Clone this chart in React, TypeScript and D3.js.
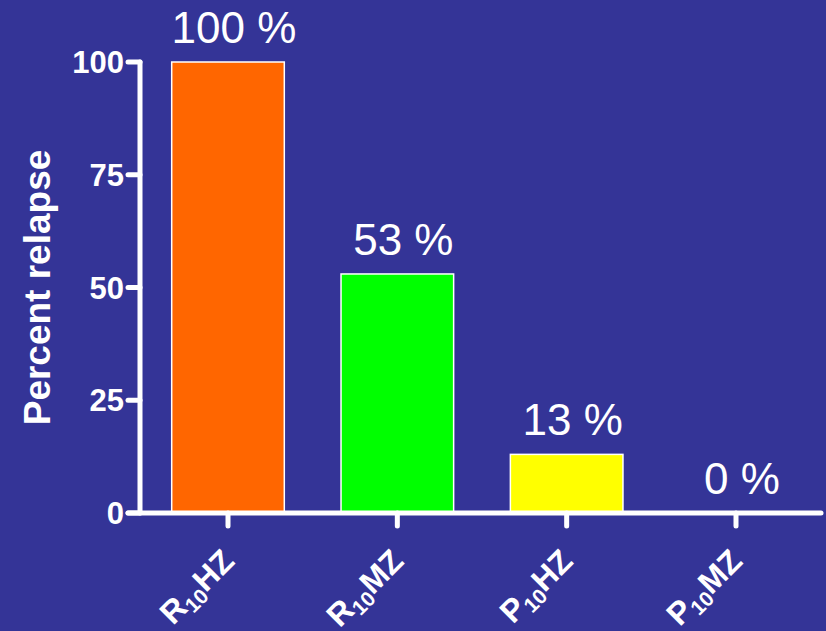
import React, { useEffect, useRef } from 'react';
import * as d3 from 'd3';

const groups = ['R', 'R', 'P', 'P'];
const suffixes = ['HZ', 'MZ', 'HZ', 'MZ'];
const categories = ['R10HZ', 'R10MZ', 'P10HZ', 'P10MZ'];
const relapse = [100, 53, 13, 0];
const barColors = ['#FF6600', '#00FF00', '#FFFF00', '#FFFF00'];
const yTicks = [0, 25, 50, 75, 100];

const W = 826;
const H = 631;
const FONT = "'Liberation Sans', Arial, Helvetica, sans-serif";

const App = () => {
  const svgRef = useRef<SVGSVGElement | null>(null);

  useEffect(() => {
    document.body.style.margin = '0';
    if (!svgRef.current) return;
    const svg = d3.select(svgRef.current);
    svg.selectAll('*').remove();

    svg.append('rect').attr('width', W).attr('height', H).attr('fill', '#343497');

    const x = d3.scalePoint<string>().domain(categories).range([228, 736]);
    const barW = x.step() * 0.665;
    const y = d3.scaleLinear().domain([0, 100]).range([513, 62]);
    const axisX = 140;

    // Bars
    svg.append('g')
      .selectAll('rect')
      .data(relapse)
      .join('rect')
      .attr('x', (_, i) => x(categories[i])! - barW / 2)
      .attr('y', d => y(d))
      .attr('width', barW)
      .attr('height', d => y(0) - y(d))
      .attr('fill', (_, i) => barColors[i])
      .attr('stroke', '#fff')
      .attr('stroke-width', 1.5);

    // Value labels
    svg.append('g')
      .selectAll('text')
      .data(relapse)
      .join('text')
      .attr('x', (_, i) => x(categories[i])! + 6)
      .attr('y', d => y(d) - 19)
      .attr('text-anchor', 'middle')
      .style('font-family', FONT)
      .style('font-size', '44px')
      .style('fill', '#fff')
      .text(d => `${d} %`);

    // Y axis
    const axis = svg.append('g')
      .attr('stroke', '#fff')
      .attr('stroke-width', 5)
      .attr('stroke-linecap', 'round');
    axis.append('line')
      .attr('x1', axisX).attr('x2', axisX)
      .attr('y1', y(100)).attr('y2', y(0));
    axis.selectAll('line.ytick')
      .data(yTicks)
      .join('line')
      .attr('class', 'ytick')
      .attr('x1', axisX - 12).attr('x2', axisX)
      .attr('y1', d => y(d)).attr('y2', d => y(d));

    // X axis
    axis.append('line')
      .attr('x1', axisX - 12).attr('x2', 821)
      .attr('y1', y(0)).attr('y2', y(0));
    axis.selectAll('line.xtick')
      .data(categories)
      .join('line')
      .attr('class', 'xtick')
      .attr('x1', d => x(d)!).attr('x2', d => x(d)!)
      .attr('y1', y(0)).attr('y2', y(0) + 13);

    // Y tick labels
    svg.append('g')
      .selectAll('text')
      .data(yTicks)
      .join('text')
      .attr('x', axisX - 16)
      .attr('y', d => y(d))
      .attr('dy', '0.36em')
      .attr('text-anchor', 'end')
      .style('font-family', FONT)
      .style('font-size', '31px')
      .style('font-weight', 'bold')
      .style('fill', '#fff')
      .text(d => d);

    // Y title
    svg.append('text')
      .attr('transform', `translate(50,${(y(0) + y(100)) / 2}) rotate(-90)`)
      .attr('text-anchor', 'middle')
      .style('font-family', FONT)
      .style('font-size', '37px')
      .style('font-weight', 'bold')
      .style('fill', '#fff')
      .text('Percent relapse');

    // X tick labels
    const xl = svg.append('g')
      .selectAll('text')
      .data(categories)
      .join('text')
      .attr('transform', d => `translate(${x(d)! + 8},${y(0) + 50}) rotate(-45)`)
      .attr('text-anchor', 'end')
      .style('font-family', FONT)
      .style('font-size', '32px')
      .style('font-weight', 'bold')
      .style('fill', '#fff');
    xl.append('tspan').text((_, i) => groups[i]);
    xl.append('tspan')
      .attr('dy', 6)
      .style('font-size', '21px')
      .text('10');
    xl.append('tspan')
      .attr('dy', -6)
      .text((_, i) => suffixes[i]);
  }, []);

  return <svg ref={svgRef} width={W} height={H} style={{ display: 'block' }} />;
};

export default App;
